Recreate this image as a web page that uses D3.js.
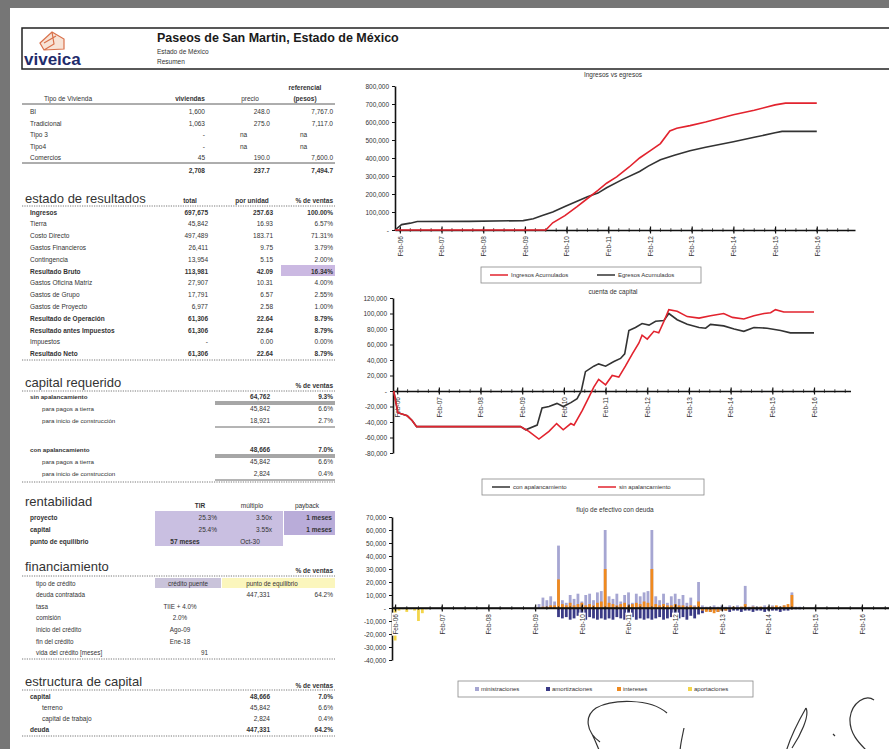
<!DOCTYPE html>
<html>
<head>
<meta charset="utf-8">
<script src="https://cdn.jsdelivr.net/npm/d3@7"></script>
<style>
  body { margin: 0; background: #fff; }
  svg { display: block; font-family: "Liberation Sans", Arial, sans-serif; }
</style>
</head>
<body>
<div id="hoja"></div>
<script>
// ---------------- datos: resumen ----------------
var tiposVivienda = ["BI", "Tradicional", "Tipo 3", "Tipo4", "Comercios"];
var viviendas = [1600, 1063, null, null, 45];
var precios = [248.0, 275.0, null, null, 190.0];
var referencial = [7767.0, 7117.0, null, null, 7600.0];
var totalVivienda = [2708, 237.7, 7494.7];

var conceptosResultado = ["Ingresos", "Tierra", "Costo Directo", "Gastos Financieros", "Contingencia",
  "Resultado Bruto", "Gastos Oficina Matriz", "Gastos de Grupo", "Gastos de Proyecto",
  "Resultado de Operación", "Resultado antes Impuestos", "Impuestos", "Resultado Neto"];
var resultadoTotal = [697675, 45842, 497489, 26411, 13954, 113981, 27907, 17791, 6977, 61306, 61306, null, 61306];
var resultadoUnidad = [257.63, 16.93, 183.71, 9.75, 5.15, 42.09, 10.31, 6.57, 2.58, 22.64, 22.64, 0.00, 22.64];
var resultadoPct = [1.0, 0.0657, 0.7131, 0.0379, 0.0200, 0.1634, 0.0400, 0.0255, 0.0100, 0.0879, 0.0879, 0.0, 0.0879];
var filasNegritas = ["Ingresos", "Resultado Bruto", "Resultado de Operación", "Resultado antes Impuestos", "Resultado Neto"];

var capitalConceptos = ["sin apalancamiento", "para pagos a tierra", "para inicio de construcción",
  "con apalancamiento", "para pagos a tierra", "para inicio de construccion"];
var capitalMonto = [64762, 45842, 18921, 48666, 45842, 2824];
var capitalPct = [0.093, 0.066, 0.027, 0.070, 0.066, 0.004];

var rentFilas = ["proyecto", "capital"];
var rentTIR = [0.253, 0.254];
var rentMultiplo = [3.50, 3.55];
var rentPayback = ["1 meses", "1 meses"];
var puntoEquilibrio = ["57 meses", "Oct-30"];

var finConceptos = ["tipo de crédito", "deuda contratada", "tasa", "comisión", "inicio del crédito", "fin del crédito", "vida del crédito [meses]"];
var finTipo = ["crédito puente", "punto de equilibrio"];
var finDeuda = [447331, 0.642];
var finValores = ["TIIE + 4.0%", "2.0%", "Ago-09", "Ene-18", "91"];

var estrConceptos = ["capital", "terreno", "capital de trabajo", "deuda"];
var estrMonto = [48666, 45842, 2824, 447331];
var estrPct = [0.070, 0.066, 0.004, 0.642];

// ---------------- datos: graficas (mes 0 = Feb-06) ----------------
var mesEtiquetas = [0, 12, 24, 36, 48, 60, 72, 84, 96, 108, 120];
var etiquetasX = ["Feb-06", "Feb-07", "Feb-08", "Feb-09", "Feb-10", "Feb-11", "Feb-12", "Feb-13", "Feb-14", "Feb-15", "Feb-16"];

// ingresos vs egresos
var mesIngresos = [-1.4, 42, 44, 47.5, 51, 54, 57, 59.5, 62.4, 66, 69, 72, 75, 77.7, 79.7, 83.5, 88, 96, 102, 108, 111, 120];
var ingresosAcum = [0, 0, 40000, 80000, 130000, 175000, 220000, 260000, 295000, 350000, 400000, 440000, 480000, 550000, 565000, 580000, 600000, 640000, 665000, 695000, 705000, 705000];
var mesEgresos = [-1.4, 0.5, 3, 5, 20, 35.5, 38.4, 41, 44, 47.5, 51, 54, 57, 59.5, 64, 69, 71.5, 75, 79, 83.5, 88, 96, 102, 108, 110, 120];
var egresosAcum = [0, 30000, 38000, 47000, 48000, 52000, 62000, 80000, 100000, 130000, 160000, 185000, 205000, 235000, 280000, 325000, 355000, 390000, 415000, 440000, 460000, 490000, 515000, 540000, 548000, 548000];

// cuenta de capital
var mesCon = [-1, 0.2, 2.9, 4.3, 5.6, 35.5, 37, 40.3, 41.7, 43.7, 46, 47.8, 50, 51.8, 53, 54.2, 56.6, 58, 60, 62.4, 64.3, 65.5, 66.7, 68.6, 70.5, 72.5, 74.4, 76.8, 78.2, 80.6, 83.5, 86.9, 88.8, 90.2, 94, 97, 99.8, 102.7, 106.5, 110.4, 113.2, 120];
var conApalancamiento = [0, -28000, -32000, -38000, -46000, -46000, -50000, -44000, -22000, -20000, -16000, -20000, -15000, -10000, 0, 25000, 32000, 35000, 32000, 38000, 42000, 48000, 78000, 82000, 87000, 85000, 90000, 91000, 100000, 92000, 86000, 82000, 81000, 86000, 84000, 80000, 77000, 82000, 81000, 78000, 75000, 75000];
var mesSin = [-1, 0.2, 2.9, 4.3, 5.6, 35.5, 37.9, 40.8, 43.7, 45.9, 47.8, 50, 50.9, 53.3, 55.2, 56.6, 58, 60, 61.9, 63.8, 65.7, 67.7, 69.6, 70.5, 72, 73.9, 75.3, 76.8, 78.2, 80.6, 83.5, 86.9, 90.2, 94, 96.5, 99.8, 102.7, 105.6, 107.5, 108.9, 111.3, 120];
var sinApalancamiento = [0, -28000, -32000, -38000, -46000, -46000, -52000, -62000, -52000, -42000, -50000, -42000, -44000, -25000, -8000, 5000, 15000, 8000, 20000, 18000, 32000, 48000, 62000, 72000, 67000, 77000, 75000, 90000, 105000, 103000, 96000, 94000, 97000, 100000, 95000, 93000, 97000, 100000, 101000, 105000, 102000, 102000];

// flujo de efectivo con deuda (valores mensuales desde el mes indicado)
var aportacionesDesde = 0;
var aportaciones = [-25000, -2000, -1000, -3000, -1000, -2000, -10000, -4000, -1000];
var ministracionesDesde = 37;
var ministraciones = [
  3000, 8000, 6000, 9000, 5000, 48000, 6000, 4000, 10000, 7000, 11000, 5000,
  10000, 11000, 6000, 12000, 13000, 60000, 9000, 7000, 11000, 5000, 10000, 12000,
  4000, 11000, 9000, 12000, 13000, 60000, 9000, 6000, 11000, 4000, 9000, 11000,
  7000, 10000, 4000, 8000, 2000, 20000, 2000, 1000, 1000, 2000, 1000, 2000,
  1000, 2000, 1000, 2000, 1000, 17000, 1000, 2000, 1000, 1000, 2000, 1000,
  2000, 1000, 1000, 2000, 1000, 12000, 1000, 1000];
var interesesDesde = 37;
var intereses = [
  0, 1000, 1000, 2000, 2000, 22000, 3000, 2000, 4000, 2000, 3000, 4000,
  2000, 3000, 2000, 4000, 5000, 30000, 4000, 3000, 2000, 3000, 4000, 2000,
  3000, 4000, 3000, 5000, 4000, 30000, 3000, 2000, 3000, 2000, 2000, 3000,
  2000, 2000, 1000, 2000, 1000, 5000, -2000, -3000, -3000, -4000, -3000, -2000,
  -2000, -1000, 1000, 0, 1000, 3000, 0, 1000, 0, 1000, 0, 1000,
  1000, 2000, 1000, 2000, 3000, 10000, 0, 0];
var amortizacionesDesde = 42;
var amortizaciones = [
  -7000, -8000, -7000, -9000, -8000, -6000, -8000, -9000, -7000, -8000, -9000, -8000,
  -9000, -8000, -9000, -7000, -8000, -9000, -8000, -7000, -9000, -8000, -9000, -8000,
  -9000, -8000, -7000, -9000, -8000, -7000, -9000, -8000, -7000, -9000, -6000, -8000,
  -5000, -4000, -2000, -3000, -2000, -3000, -2000, -2000, -3000, -2000, -2000, -3000,
  -2000, -2000, -3000, -2000, -2000, -3000, -2000, -2000, -2000, -3000, -2000, -2000, -1000, -1000, -1000];

// ---------------- dibujo ----------------
var W = 889, H = 749;
var svg = d3.select("#hoja").append("svg").attr("width", W).attr("height", H);
svg.append("rect").attr("width", W).attr("height", H).attr("fill", "#fff");
svg.append("rect").attr("width", W).attr("height", 8).attr("fill", "#767676");
svg.append("rect").attr("width", 10).attr("height", H).attr("fill", "#767676");

var fInt = d3.format(",");
var fDec1 = d3.format(",.1f");
var fDec2 = d3.format(".2f");
var fPct2 = d3.format(".2%");
var fPct1 = d3.format(".1%");
function fEje(d) { return d === 0 ? "-" : (d < 0 ? "-" : "") + fInt(Math.abs(d)); }

function txt(g, x, y, s, o) {
  o = o || {};
  return g.append("text").attr("x", x).attr("y", y).text(s)
    .attr("text-anchor", o.a || "start")
    .attr("font-size", o.fs || 7)
    .attr("font-weight", o.b ? "bold" : "normal")
    .attr("fill", o.c || "#333");
}
function linea(g, x1, x2, y, o) {
  o = o || {};
  g.append("line").attr("x1", x1).attr("x2", x2).attr("y1", y).attr("y2", y)
    .attr("stroke", o.c || "#555").attr("stroke-width", o.w || 0.8)
    .attr("stroke-dasharray", o.dash ? "1.2,1.2" : null);
}

// encabezado
var enc = svg.append("g");
enc.append("rect").attr("x", 22).attr("y", 28).attr("width", 900).attr("height", 41)
  .attr("fill", "none").attr("stroke", "#222").attr("stroke-width", 1.5);
enc.append("path").attr("d", "M40,43 L52,32 L64,39 L64,49 L44,50 Z M44,43 L56,36 M52,32 L54,44 L44,50")
  .attr("fill", "#f7e3d6").attr("stroke", "#d9704a").attr("stroke-width", 1.2);
txt(enc, 24, 65, "viveica", { fs: 17, b: true, c: "#1f2c6b" });
txt(enc, 157, 42, "Paseos de San Martin, Estado de México", { fs: 12.5, b: true, c: "#1a1a1a" });
txt(enc, 157, 54, "Estado de México", { fs: 6.5 });
txt(enc, 157, 64, "Resumen", { fs: 6.5 });

// columnas de las tablas
var cA = 208, cB = 273, cC = 333, xL = 30;
var tab = svg.append("g");

// tipo de vivienda
txt(tab, 305, 90, "referencial", { a: "middle", fs: 6.5, b: true });
txt(tab, 305, 101, "(pesos)", { a: "middle", fs: 6.5, b: true });
txt(tab, 68, 101, "Tipo de Vivienda", { a: "middle", fs: 6.5 });
txt(tab, 190, 101, "viviendas", { a: "middle", fs: 6.5, b: true });
txt(tab, 250, 101, "precio", { a: "middle", fs: 6.5 });
linea(tab, 22, 335, 104, { c: "#333" });
tiposVivienda.forEach(function (n, i) {
  var y = 114 + i * 11.5;
  txt(tab, xL, y, n, { fs: 6.5 });
  txt(tab, cA - 3, y, viviendas[i] == null ? "-" : fInt(viviendas[i]), { a: "end", fs: 6.5 });
  if (precios[i] == null) {
    txt(tab, 240, y, "na", { fs: 6.5 });
    txt(tab, 300, y, "na", { fs: 6.5 });
  } else {
    txt(tab, cB - 3, y, fDec1(precios[i]), { a: "end", fs: 6.5 });
    txt(tab, cC, y, fDec1(referencial[i]), { a: "end", fs: 6.5 });
  }
});
linea(tab, 22, 335, 163, { c: "#333" });
txt(tab, cA - 3, 173, fInt(totalVivienda[0]), { a: "end", fs: 6.5, b: true });
txt(tab, cB - 3, 173, fDec1(totalVivienda[1]), { a: "end", fs: 6.5, b: true });
txt(tab, cC, 173, fDec1(totalVivienda[2]), { a: "end", fs: 6.5, b: true });

// estado de resultados
txt(tab, 25, 203, "estado de resultados", { fs: 13 });
txt(tab, 190, 203, "total", { a: "middle", fs: 6.5, b: true });
txt(tab, 252, 203, "por unidad", { a: "middle", fs: 6.5, b: true });
txt(tab, cC, 203, "% de ventas", { a: "end", fs: 6.5, b: true });
linea(tab, 22, 335, 206, { dash: true });
tab.append("rect").attr("x", 281).attr("y", 265).attr("width", 54).attr("height", 11).attr("fill", "#cbb9e2");
conceptosResultado.forEach(function (n, i) {
  var y = 214.5 + i * 11.8, b = filasNegritas.indexOf(n) >= 0;
  txt(tab, xL, y, n, { fs: 6.5, b: b });
  txt(tab, cA, y, resultadoTotal[i] == null ? "-" : fInt(resultadoTotal[i]), { a: "end", fs: 6.5, b: b });
  txt(tab, cB, y, fDec2(resultadoUnidad[i]), { a: "end", fs: 6.5, b: b });
  txt(tab, cC, y, fPct2(resultadoPct[i]), { a: "end", fs: 6.5, b: b });
});
linea(tab, 22, 335, 360, { dash: true });

// capital requerido
txt(tab, 25, 387, "capital requerido", { fs: 13 });
txt(tab, cC, 388, "% de ventas", { a: "end", fs: 6.5, b: true });
linea(tab, 22, 335, 391, { dash: true });
capitalConceptos.forEach(function (n, i) {
  var grupo = i < 3 ? 0 : 1, sub = i % 3;
  var y = 399 + grupo * 53 + sub * 12;
  var b = sub === 0;
  txt(tab, sub === 0 ? 30 : 42, y, n, { fs: 6.2, b: b });
  txt(tab, cB - 3, y, fInt(capitalMonto[i]), { a: "end", fs: 6.5, b: b });
  txt(tab, cC, y, fPct1(capitalPct[i]), { a: "end", fs: 6.5, b: b });
  if (sub === 0) { linea(tab, 215, 335, y + 3, { c: "#222" }); linea(tab, 215, 335, y + 5, { c: "#222" }); }
  if (sub === 2) linea(tab, 215, 335, y + 4, { c: "#444" });
});
linea(tab, 22, 335, 482, { dash: true });

// rentabilidad
txt(tab, 25, 506, "rentabilidad", { fs: 13 });
txt(tab, 200, 508, "TIR", { a: "middle", fs: 6.5, b: true });
txt(tab, 252, 508, "múltiplo", { a: "middle", fs: 6.5 });
txt(tab, 307, 508, "payback", { a: "middle", fs: 6.5 });
tab.append("rect").attr("x", 155).attr("y", 511).attr("width", 128).attr("height", 35).attr("fill", "#c9bfe1");
tab.append("rect").attr("x", 284).attr("y", 511).attr("width", 51).attr("height", 24).attr("fill", "#b9acd9");
rentFilas.forEach(function (n, i) {
  var y = 519.5 + i * 12;
  txt(tab, xL, y, n, { fs: 6.5, b: true });
  txt(tab, 217, y, fPct1(rentTIR[i]), { a: "end", fs: 6.5 });
  txt(tab, 272, y, d3.format(".2f")(rentMultiplo[i]) + "x", { a: "end", fs: 6.5 });
  txt(tab, 332, y, rentPayback[i], { a: "end", fs: 6.5, b: true });
});
txt(tab, xL, 543.5, "punto de equilibrio", { fs: 6.5, b: true });
txt(tab, 185, 543.5, puntoEquilibrio[0], { a: "middle", fs: 6.5, b: true });
txt(tab, 250, 543.5, puntoEquilibrio[1], { a: "middle", fs: 6.5 });

// financiamiento
txt(tab, 25, 571, "financiamiento", { fs: 13 });
txt(tab, cC, 573, "% de ventas", { a: "end", fs: 6.5, b: true });
linea(tab, 22, 335, 576, { dash: true });
tab.append("rect").attr("x", 155).attr("y", 578).attr("width", 66).attr("height", 10).attr("fill", "#c9c3da");
tab.append("rect").attr("x", 222).attr("y", 578).attr("width", 113).attr("height", 10).attr("fill", "#fbf6bd");
finConceptos.forEach(function (n, i) {
  var y = 585.5 + i * 11.6;
  txt(tab, 36, y, n, { fs: 6.3 });
  if (i === 0) {
    txt(tab, 188, y, finTipo[0], { a: "middle", fs: 6.3 });
    txt(tab, 272, y, finTipo[1], { a: "middle", fs: 6.3 });
  } else if (i === 1) {
    txt(tab, cB - 3, y, fInt(finDeuda[0]), { a: "end", fs: 6.5 });
    txt(tab, cC, y, fPct1(finDeuda[1]), { a: "end", fs: 6.5 });
  } else if (i === 6) {
    txt(tab, 208, y, finValores[i - 2], { a: "end", fs: 6.3 });
  } else {
    txt(tab, 180, y, finValores[i - 2], { a: "middle", fs: 6.3 });
  }
});
linea(tab, 22, 335, 659, { dash: true });

// estructura de capital
txt(tab, 25, 686, "estructura de capital", { fs: 13 });
txt(tab, cC, 688, "% de ventas", { a: "end", fs: 6.5, b: true });
linea(tab, 22, 335, 690, { dash: true });
estrConceptos.forEach(function (n, i) {
  var y = 698.5 + i * 11.3, b = (i === 0 || i === 3);
  txt(tab, b ? 30 : 42, y, n, { fs: 6.5, b: b });
  txt(tab, cB - 3, y, fInt(estrMonto[i]), { a: "end", fs: 6.5, b: b });
  txt(tab, cC, y, fPct1(estrPct[i]), { a: "end", fs: 6.5, b: b });
});
linea(tab, 22, 335, 736, { dash: true });

// ---------------- ejes comunes ----------------
function ejeX(g, x, y0, mesMax, fondoBlanco) {
  g.append("g").selectAll("line").data(d3.range(0, mesMax, 3)).join("line")
    .attr("x1", function (d) { return x(d); }).attr("x2", function (d) { return x(d); })
    .attr("y1", y0 - 1.8).attr("y2", y0 + 1.8).attr("stroke", "#222").attr("stroke-width", 0.8);
  var ax = d3.axisBottom(x).tickValues(mesEtiquetas)
    .tickFormat(function (d, i) { return etiquetasX[i]; })
    .tickSizeInner(3).tickSizeOuter(0);
  var ga = g.append("g").attr("transform", "translate(0," + y0 + ")").call(ax);
  ga.attr("font-family", null).attr("font-size", null);
  ga.select(".domain").attr("stroke", "#111").attr("stroke-width", 1.6);
  ga.selectAll(".tick line").attr("y1", -3.5).attr("y2", 3.5).attr("stroke", "#111").attr("stroke-width", 1.2);
  ga.selectAll(".tick text").attr("y", 0).attr("dy", "0.35em")
    .attr("transform", "translate(0,6) rotate(-90)").attr("text-anchor", "end")
    .attr("font-size", 6.5).attr("fill", "#333");
  if (fondoBlanco) {
    ga.selectAll(".tick").each(function () {
      var t = d3.select(this).select("text"), bb = t.node().getBBox();
      d3.select(this).insert("rect", "text").attr("x", bb.x - 1).attr("y", bb.y)
        .attr("width", bb.width + 2).attr("height", bb.height)
        .attr("transform", t.attr("transform")).attr("fill", "#fff");
    });
  }
}
function ejeY(g, y, x0, valores) {
  var ay = d3.axisLeft(y).tickValues(valores).tickFormat(fEje).tickSizeInner(3).tickSizeOuter(0).tickPadding(3);
  var ga = g.append("g").attr("transform", "translate(" + x0 + ",0)").call(ay);
  ga.attr("font-family", null).attr("font-size", null);
  ga.select(".domain").attr("stroke", "#111").attr("stroke-width", 1.6);
  ga.selectAll(".tick line").attr("stroke", "#111");
  ga.selectAll(".tick text").attr("font-size", 6.5).attr("fill", "#333");
}
function leyenda(g, x, y, w, items) {
  g.append("rect").attr("x", x).attr("y", y).attr("width", w).attr("height", 16)
    .attr("fill", "#fff").attr("stroke", "#888").attr("stroke-width", 0.8);
  items.forEach(function (it) {
    if (it.tipo === "linea") {
      g.append("line").attr("x1", it.x).attr("x2", it.x + 18).attr("y1", y + 8).attr("y2", y + 8)
        .attr("stroke", it.color).attr("stroke-width", 1.5);
      txt(g, it.x + 21, y + 10.3, it.nombre, { fs: 6 });
    } else {
      g.append("rect").attr("x", it.x).attr("y", y + 6).attr("width", 4).attr("height", 4).attr("fill", it.color);
      txt(g, it.x + 6, y + 10.3, it.nombre, { fs: 6 });
    }
  });
}
var rojo = "#e2232e", negro = "#333";

// ---------------- grafica 1: ingresos vs egresos ----------------
var g1 = svg.append("g");
var x1 = d3.scaleLinear().domain([-1.4, 131]).range([395, 855]);
var y1 = d3.scaleLinear().domain([0, 800000]).range([230, 86]);
txt(g1, 613, 77, "Ingresos vs egresos", { a: "middle", fs: 6.5 });
ejeY(g1, y1, 395, [0, 100000, 200000, 300000, 400000, 500000, 600000, 700000, 800000]);
ejeX(g1, x1, y1(0), 131, false);
var ln1 = d3.line().x(function (d) { return x1(d[0]); }).y(function (d) { return y1(d[1]); });
g1.append("path").datum(d3.zip(mesEgresos, egresosAcum)).attr("d", ln1)
  .attr("fill", "none").attr("stroke", negro).attr("stroke-width", 1.6);
g1.append("path").datum(d3.zip(mesIngresos, ingresosAcum)).attr("d", ln1)
  .attr("fill", "none").attr("stroke", rojo).attr("stroke-width", 1.6);
leyenda(g1, 481, 267, 220, [
  { tipo: "linea", x: 490, color: rojo, nombre: "Ingresos Acumulados" },
  { tipo: "linea", x: 597, color: negro, nombre: "Egresos Acumulados" }]);

// ---------------- grafica 2: cuenta de capital ----------------
var g2 = svg.append("g");
var x2 = d3.scaleLinear().domain([-1.2, 130.5]).range([393, 850.5]);
var y2 = d3.scaleLinear().domain([-80000, 120000]).range([453, 298]);
txt(g2, 613, 294, "cuenta de capital", { a: "middle", fs: 6.5 });
ejeY(g2, y2, 393, [-80000, -60000, -40000, -20000, 0, 20000, 40000, 60000, 80000, 100000, 120000]);
ejeX(g2, x2, y2(0), 131, false);
var ln2 = d3.line().x(function (d) { return x2(d[0]); }).y(function (d) { return y2(d[1]); });
g2.append("path").datum(d3.zip(mesCon, conApalancamiento)).attr("d", ln2)
  .attr("fill", "none").attr("stroke", negro).attr("stroke-width", 1.6);
g2.append("path").datum(d3.zip(mesSin, sinApalancamiento)).attr("d", ln2)
  .attr("fill", "none").attr("stroke", rojo).attr("stroke-width", 1.6);
leyenda(g2, 482, 479, 222, [
  { tipo: "linea", x: 492, color: negro, nombre: "con apalancamiento" },
  { tipo: "linea", x: 598, color: rojo, nombre: "sin apalancamiento" }]);

// ---------------- grafica 3: flujo de efectivo con deuda ----------------
var g3 = svg.append("g");
var x3 = d3.scaleLinear().domain([-0.8, 127.6]).range([392, 891.5]);
var y3 = d3.scaleLinear().domain([-40000, 70000]).range([660, 517]);
txt(g3, 615, 512, "flujo de efectivo con deuda", { a: "middle", fs: 6.5 });
var series3 = [
  { nombre: "ministraciones", desde: ministracionesDesde, valores: ministraciones, color: "#a6a6d2" },
  { nombre: "amortizaciones", desde: amortizacionesDesde, valores: amortizaciones, color: "#3a3a86" },
  { nombre: "intereses", desde: interesesDesde, valores: intereses, color: "#f08a1e" },
  { nombre: "aportaciones", desde: aportacionesDesde, valores: aportaciones, color: "#f3d54b" }];
ejeY(g3, y3, 392, [-40000, -30000, -20000, -10000, 0, 10000, 20000, 30000, 40000, 50000, 60000, 70000]);
var barras = g3.append("g");
ejeX(g3, x3, y3(0), 128, true);
series3.forEach(function (s) {
  barras.append("g").selectAll("rect").data(s.valores).join("rect")
    .attr("x", function (d, i) { return x3(s.desde + i) - 1.4; })
    .attr("width", 2.8)
    .attr("y", function (d) { return y3(Math.max(0, d)); })
    .attr("height", function (d) { return Math.abs(y3(d) - y3(0)); })
    .attr("fill", s.color);
});
g3.append("line").attr("x1", 392).attr("x2", 889).attr("y1", y3(0)).attr("y2", y3(0))
  .attr("stroke", "#111").attr("stroke-width", 1.4);
leyenda(g3, 458, 681, 295, series3.map(function (s, i) {
  return { tipo: "cuadro", x: 475 + i * 71, color: s.color, nombre: s.nombre };
}));

// firma
svg.append("path")
  .attr("d", "M667,713 C650,698 612,699 596,708 C584,716 586,732 600,742 M592,734 C596,742 598,748 600,752 M684,728 C682,738 680,746 680,752 M806,708 C798,722 790,738 786,752 M806,708 C810,716 800,736 792,748 M874,700 C866,694 852,702 850,718 C849,734 860,744 868,752 M833,734 L835,736")
  .attr("fill", "none").attr("stroke", "#333").attr("stroke-width", 1.2);
</script>
</body>
</html>
